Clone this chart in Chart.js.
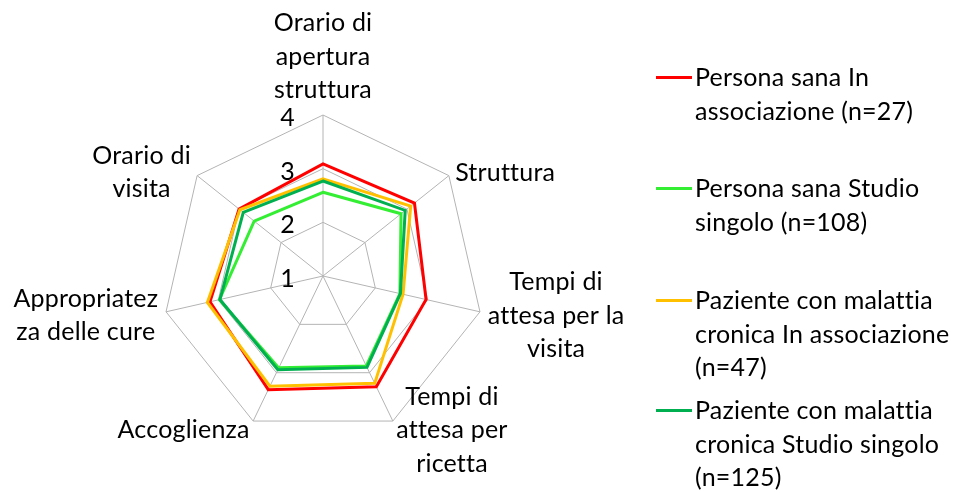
<!DOCTYPE html>
<html>
<head>
<meta charset="utf-8">
<script src="https://cdn.jsdelivr.net/npm/chart.js@4/dist/chart.umd.min.js"></script>
<style>
  body { margin: 0; background: #fff; }
  #wrap { position: relative; width: 958px; height: 493px; overflow: hidden; }
  #chart { position: absolute; left: 0; top: 0; }
  .legend-item { position: absolute; left: 656px; }
  .legend-line { position: absolute; left: 0; width: 36px; height: 3px; }
  .legend-text {
    position: absolute; left: 39px; white-space: pre;
    font-family: Lato, sans-serif; font-size: 25px; line-height: 33.5px; color: #000;
    font-variant-ligatures: none; letter-spacing: 0.2px;
  }
</style>
</head>
<body>
<div id="wrap">
  <canvas id="chart" width="958" height="493"></canvas>
  <div id="legend"></div>
</div>
<script>
// Categories (one array of lines per axis)
const categories = [
  ['Orario di', 'apertura', 'struttura'],
  ['Struttura'],
  ['Tempi di', 'attesa per la', 'visita'],
  ['Tempi di', 'attesa per', 'ricetta'],
  ['Accoglienza'],
  ['Appropriatez', 'za delle cure'],
  ['Orario di', 'visita']
];

// Tick labels of the radial axis
const tickValues = [1, 2, 3, 4];

// Series values
const sanaAssociazione    = [3.09, 3.18, 2.97, 3.29, 3.35, 3.16, 3.00];
const sanaSingolo         = [2.56, 2.86, 2.47, 2.86, 2.90, 2.98, 2.64];
const cronicaAssociazione = [2.81, 3.09, 2.53, 3.22, 3.28, 3.21, 2.98];
const cronicaSingolo      = [2.77, 2.96, 2.48, 2.89, 2.94, 2.97, 2.90];

const seriesNames = [
  'Persona sana In\nassociazione (n=27)',
  'Persona sana Studio\nsingolo (n=108)',
  'Paziente con malattia\ncronica In associazione\n(n=47)',
  'Paziente con malattia\ncronica Studio singolo\n(n=125)'
];
const seriesValues = [sanaAssociazione, sanaSingolo, cronicaAssociazione, cronicaSingolo];
const seriesColors = ['#ff0000', '#33ee33', '#ffc000', '#00b050'];

// layout
const FONT = '25px Lato, sans-serif';
const LINE_H = 33.5;
const legendCenters = [77, 188, 300, 410];

// Excel-like tick labels and category labels
const excelLabels = {
  id: 'excelLabels',
  afterDraw(chart) {
    const s = chart.scales.r;
    const ctx = chart.ctx;
    ctx.save();
    ctx.font = FONT;
    ctx.letterSpacing = '0.2px'; // also stops the "tt" ligature
    ctx.fillStyle = '#000';
    ctx.textBaseline = 'middle';

    ctx.textAlign = 'right';
    tickValues.forEach(v => {
      const d = s.getDistanceFromCenterForValue(v);
      ctx.fillText(String(v), s.xCenter - 28, s.yCenter - d + 3);
    });

    ctx.textAlign = 'center';
    categories.forEach((lines, i) => {
      const p = s.getPointPosition(i, s.drawingArea + 8);
      const h = lines.length * LINE_H;
      const w = Math.max(...lines.map(l => ctx.measureText(l).width));
      let left;
      if (Math.abs(p.x - s.xCenter) < 1) left = p.x - w / 2;
      else if (p.x > s.xCenter) left = p.x;
      else left = p.x - w;
      const top = i === 0 ? p.y - h : p.y - h / 2 + 2;
      lines.forEach((l, k) => ctx.fillText(l, left + w / 2, top + LINE_H * (k + 0.5)));
    });
    ctx.restore();
  }
};

new Chart(document.getElementById('chart'), {
  type: 'radar',
  data: {
    labels: categories,
    datasets: seriesValues.map((vals, i) => ({
      label: seriesNames[i],
      data: vals,
      borderColor: seriesColors[i],
      backgroundColor: seriesColors[i],
      borderWidth: 3,
      pointRadius: 0,
      fill: false,
      tension: 0,
      order: seriesValues.length - i
    }))
  },
  options: {
    responsive: false,
    animation: false,
    layout: { padding: { left: 162, top: 115, right: 473, bottom: 55 } },
    plugins: { legend: { display: false }, tooltip: { enabled: false } },
    scales: {
      r: {
        min: tickValues[0],
        max: tickValues[tickValues.length - 1],
        ticks: { stepSize: 1, display: false },
        grid: { color: '#b4b4b4', lineWidth: 1 },
        angleLines: { color: '#b4b4b4', lineWidth: 1 },
        pointLabels: { display: false }
      }
    }
  },
  plugins: [excelLabels]
});

// HTML legend
const legend = document.getElementById('legend');
seriesNames.forEach((name, i) => {
  const item = document.createElement('div');
  item.className = 'legend-item';
  item.style.top = (legendCenters[i] - LINE_H / 2) + 'px';
  item.innerHTML = `<div class="legend-line" style="background:${seriesColors[i]};top:${LINE_H / 2 - 1.5}px"></div>` +
    `<div class="legend-text"></div>`;
  item.querySelector('.legend-text').textContent = name;
  legend.appendChild(item);
});
</script>
</body>
</html>
